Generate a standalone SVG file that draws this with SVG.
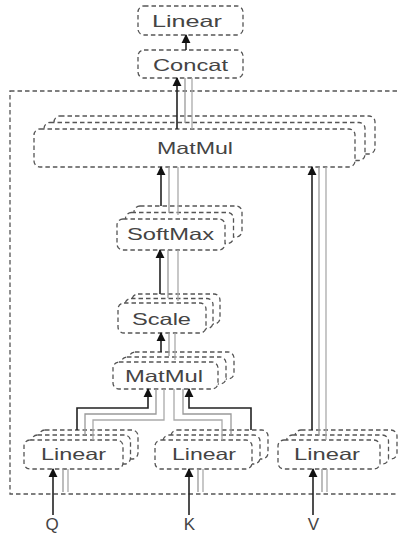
<svg xmlns="http://www.w3.org/2000/svg" width="398" height="535" viewBox="0 0 398 535">
<style>
  .box{fill:#fff;stroke:#555;stroke-width:1.3;stroke-dasharray:4.5 3}
  .frame{fill:none;stroke:#555;stroke-width:1.3;stroke-dasharray:4.5 3}
  .lbl{font-family:"Liberation Sans",Arial,sans-serif;font-size:16.5px;fill:#444}
  .io{font-family:"Liberation Sans",Arial,sans-serif;font-size:17px;fill:#444;text-anchor:middle}
  .arr{fill:none;stroke:#222;stroke-width:1.6;marker-end:url(#ah)}
  .g1{fill:none;stroke:#999;stroke-width:1.3}
  .g2{fill:none;stroke:#aaa;stroke-width:1.3}
</style>
<defs>
  <marker id="ah" viewBox="0 0 10 10" markerUnits="userSpaceOnUse" markerWidth="9" markerHeight="10" refX="9" refY="5" orient="auto">
    <path d="M0,0 L10,5 L0,10 z" fill="#111"/>
  </marker>
</defs>

<rect class="frame" x="10" y="91" width="400" height="403"/>

<g id="linear_out">
  <rect class="box" x="138" y="6" width="105" height="29" rx="6"/>
  <text class="lbl" x="152" y="27" textLength="70" lengthAdjust="spacingAndGlyphs">Linear</text>
</g>
<g id="concat">
  <rect class="box" x="138" y="50" width="105" height="28" rx="6"/>
  <text class="lbl" x="153" y="71" textLength="75" lengthAdjust="spacingAndGlyphs">Concat</text>
</g>
<g id="matmul_top">
  <rect class="box" x="54" y="116" width="321" height="38" rx="6"/>
  <rect class="box" x="44" y="122.5" width="321" height="38" rx="6"/>
  <rect class="box" x="34" y="129" width="321" height="38" rx="6"/>
  <text class="lbl" x="157" y="154" textLength="76" lengthAdjust="spacingAndGlyphs">MatMul</text>
</g>
<g id="softmax">
  <rect class="box" x="134" y="206" width="108" height="31" rx="6"/>
  <rect class="box" x="125.5" y="212.5" width="108" height="31" rx="6"/>
  <rect class="box" x="117" y="219" width="108" height="31" rx="6"/>
  <text class="lbl" x="127" y="240" textLength="87" lengthAdjust="spacingAndGlyphs">SoftMax</text>
</g>
<g id="scale">
  <rect class="box" x="132" y="294" width="88" height="30" rx="6"/>
  <rect class="box" x="125" y="298.5" width="88" height="30" rx="6"/>
  <rect class="box" x="118" y="303" width="88" height="30" rx="6"/>
  <text class="lbl" x="132" y="325" textLength="59" lengthAdjust="spacingAndGlyphs">Scale</text>
</g>
<g id="matmul_low">
  <rect class="box" x="129" y="352" width="105" height="27" rx="6"/>
  <rect class="box" x="121" y="357" width="105" height="27" rx="6"/>
  <rect class="box" x="113" y="362" width="105" height="27" rx="6"/>
  <text class="lbl" x="125" y="382" textLength="78" lengthAdjust="spacingAndGlyphs">MatMul</text>
</g>
<g id="linear_q">
  <rect class="box" x="39" y="430" width="99" height="29" rx="6"/>
  <rect class="box" x="31.5" y="435" width="99" height="29" rx="6"/>
  <rect class="box" x="24" y="440" width="99" height="29" rx="6"/>
  <text class="lbl" x="41" y="460" textLength="65" lengthAdjust="spacingAndGlyphs">Linear</text>
</g>
<g id="linear_k">
  <rect class="box" x="171" y="430" width="97" height="29" rx="6"/>
  <rect class="box" x="163" y="435" width="97" height="29" rx="6"/>
  <rect class="box" x="155" y="440" width="97" height="29" rx="6"/>
  <text class="lbl" x="172" y="460" textLength="64" lengthAdjust="spacingAndGlyphs">Linear</text>
</g>
<g id="linear_v">
  <rect class="box" x="295" y="430" width="102" height="29" rx="6"/>
  <rect class="box" x="286.5" y="435" width="102" height="29" rx="6"/>
  <rect class="box" x="278" y="440" width="102" height="29" rx="6"/>
  <text class="lbl" x="294" y="460" textLength="66" lengthAdjust="spacingAndGlyphs">Linear</text>
</g>
<g id="inputs">
  <text class="io" x="52" y="530">Q</text>
  <text class="io" x="189.5" y="530">K</text>
  <text class="io" x="313.5" y="530">V</text>
</g>

<g id="connectors">
  <path class="arr" d="M186,50 V35"/>
  <path class="g1" d="M185,123 V78"/>
  <path class="g2" d="M192,129 V78"/>
  <path class="arr" d="M177,129 V78"/>

  <path class="g1" d="M169,213 V167"/>
  <path class="g2" d="M178,215 V167"/>
  <path class="arr" d="M161,206 V167"/>

  <path class="g1" d="M168,298 V250"/>
  <path class="g2" d="M178,301 V250"/>
  <path class="arr" d="M160,294 V250"/>

  <path class="g1" d="M169,356 V333"/>
  <path class="g2" d="M175,360 V333"/>
  <path class="arr" d="M161,352 V333"/>

  <path class="g1" d="M85,435 V414 H156 V389"/>
  <path class="g2" d="M93,440 V420 H164 V389"/>
  <path class="arr" d="M77,430 V408 H148 V389"/>

  <path class="g1" d="M231,435 V414 H183 V389"/>
  <path class="g2" d="M222,440 V420 H174 V389"/>
  <path class="arr" d="M251,430 V408 H189 V389"/>

  <path class="g1" d="M319,435 V167"/>
  <path class="g2" d="M326,440 V167"/>
  <path class="arr" d="M312,430 V167"/>

  <path class="g1" d="M63,469 V492"/>
  <path class="g2" d="M68,469 V492"/>
  <path class="arr" d="M53,515 V469"/>

  <path class="g1" d="M198,469 V492"/>
  <path class="g2" d="M203,469 V492"/>
  <path class="arr" d="M189,515 V469"/>

  <path class="g1" d="M322,469 V492"/>
  <path class="g2" d="M327,469 V492"/>
  <path class="arr" d="M313,515 V469"/>
</g>
</svg>
